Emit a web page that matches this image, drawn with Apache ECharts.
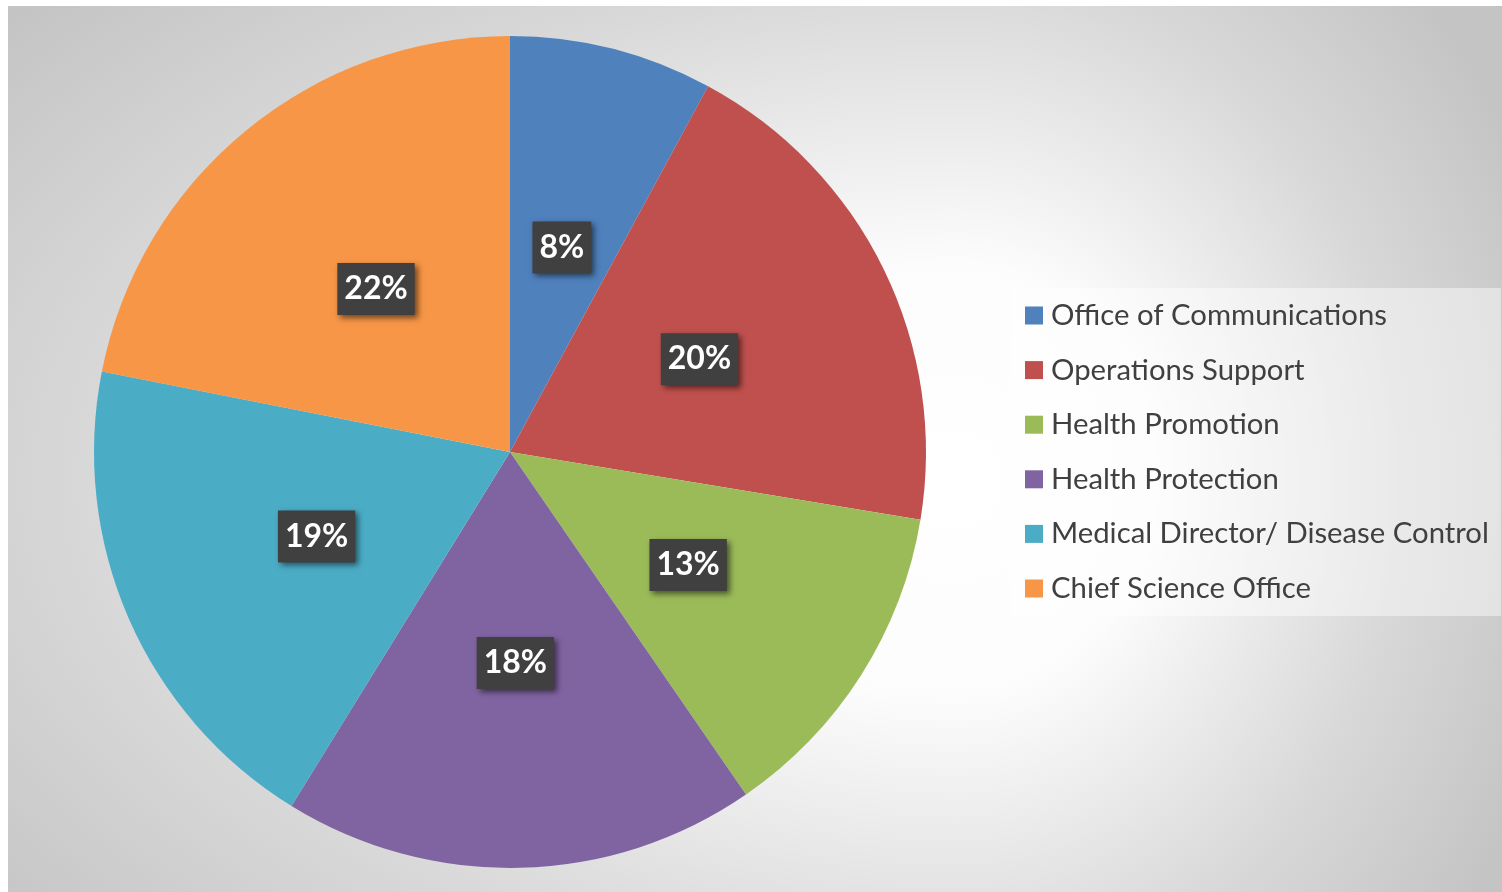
<!DOCTYPE html>
<html lang="en">

<head>
    <meta charset="UTF-8">
    <title>Share by office</title>
    <style>
        body {
            margin: 0;
            background-color: #ffffff;
        }

        #chart {
            position: absolute;
            left: 8px;
            top: 6px;
            width: 1494px;
            height: 886px;
        }
    </style>
</head>

<body>
    <div id="chart"></div>
    <script src="https://cdn.jsdelivr.net/npm/echarts@6/dist/echarts.min.js"></script>
    <script>
        const offices = [
            'Office of Communications',
            'Operations Support',
            'Health Promotion',
            'Health Protection',
            'Medical Director/ Disease Control',
            'Chief Science Office'
        ];
        const shares = [7.9, 19.7, 12.8, 18.4, 19.3, 21.9];
        const colors = ['#4F81BD', '#C0504D', '#9BBB59', '#8064A2', '#4BACC6', '#F79646'];

        const chart = echarts.init(document.getElementById('chart'));
        const W = 1494, H = 886;

        // soft light spot behind the chart: an off-centre ellipse,
        // wider to the left than to the right
        const cx = 952, cy = 474;
        const aL = 1247, aR = 629, b = 717;

        function glow(a, x0, x1) {
            const k = b / a;
            return {
                type: 'rect',
                silent: true,
                z: -10,
                originX: 0,
                originY: 0,
                scaleX: a / b,
                shape: { x: x0 * k, y: 0, width: (x1 - x0) * k, height: H },
                style: {
                    fill: {
                        type: 'radial', global: true,
                        x: cx * k, y: cy, r: b,
                        colorStops: [
                            { offset: 0, color: '#ffffff' },
                            { offset: 0.3, color: '#fcfcfc' },
                            { offset: 0.7, color: '#d8d8d8' },
                            { offset: 1, color: '#c4c4c4' }
                        ]
                    }
                }
            };
        }

        const data = offices.map(function (name, i) {
            return { name: name, value: shares[i] };
        });

        chart.setOption({
            animation: false,
            backgroundColor: '#c4c4c4',
            color: colors,
            graphic: [glow(aL, 0, cx + 2), glow(aR, cx, W)],
            legend: {
                orient: 'vertical',
                left: 1002,
                top: 282,
                padding: [13, 12, 13, 15],
                backgroundColor: 'rgba(255,255,255,0.45)',
                icon: 'rect',
                itemWidth: 18,
                itemHeight: 18,
                itemGap: 25.6,
                textStyle: {
                    fontFamily: 'Lato',
                    fontSize: 29.3,
                    lineHeight: 29,
                    color: '#404040',
                    padding: [0, 0, 0, 3]
                },
                data: offices
            },
            series: [
                {
                    type: 'pie',
                    center: [502, 446],
                    radius: [0, 416],
                    startAngle: 90,
                    clockwise: true,
                    percentPrecision: 0,
                    emphasis: { disabled: true },
                    label: {
                        position: 'inside',
                        formatter: '{d}%',
                        fontFamily: 'Lato',
                        fontWeight: 'bold',
                        fontSize: 32,
                        color: '#ffffff',
                        backgroundColor: '#404040',
                        padding: [10, 7],
                        shadowBlur: 6,
                        shadowColor: 'rgba(0,0,0,0.55)',
                        shadowOffsetX: 3,
                        shadowOffsetY: 3
                    },
                    labelLine: { show: false },
                    data: data
                }
            ]
        });
    </script>
</body>

</html>
